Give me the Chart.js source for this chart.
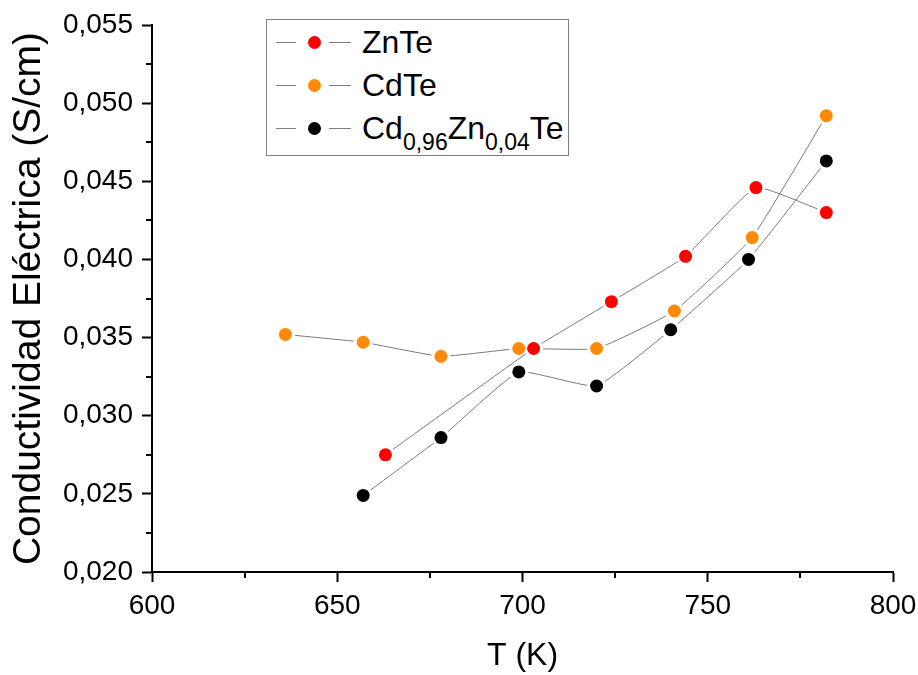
<!DOCTYPE html>
<html>
<head>
<meta charset="utf-8">
<script src="https://cdn.jsdelivr.net/npm/chart.js@4.4.1/dist/chart.umd.min.js"></script>
<style>
  body { margin: 0; background: #fff; }
  #wrap { position: relative; width: 918px; height: 675px; }
  #legend {
    position: absolute; left: 266px; top: 19px; width: 303px; height: 137px;
    border: 1px solid #808080; box-sizing: border-box; background: #fff;
    font-family: "Liberation Sans", Arial, sans-serif; color: #000;
  }
  .row { position: absolute; left: 0; width: 100%; height: 0; }
  .seg { position: absolute; top: 0; height: 1px; background: #808080; }
  .dot { position: absolute; top: -6px; width: 13px; height: 13px; border-radius: 50%; }
  .lbl { position: absolute; left: 95px; top: -19px; font-size: 32px; line-height: 38px; white-space: nowrap; }
  .lbl sub { font-size: 23px; vertical-align: -11px; line-height: 0; }
</style>
</head>
<body>
<div id="wrap">
  <canvas id="chart" width="918" height="675"></canvas>
  <div id="legend"></div>
</div>
<script>
// Data
const T_ZNTE = [663, 703, 724, 744, 763, 782];
const S_ZNTE = [0.0275, 0.0343, 0.0373, 0.0402, 0.0446, 0.0430];

const T_CDTE = [636, 657, 678, 699, 720, 741, 762, 782];
const S_CDTE = [0.0352, 0.0347, 0.0338, 0.0343, 0.0343, 0.0367, 0.0414, 0.0492];

const T_CDZNTE = [657, 678, 699, 720, 740, 761, 782];
const S_CDZNTE = [0.0249, 0.0286, 0.0328, 0.0319, 0.0355, 0.0400, 0.0463];

const SERIES_NAMES = ['ZnTe', 'CdTe', 'Cd<sub>0,96</sub>Zn<sub>0,04</sub>Te'];
const SERIES_COLORS = ['#ff0000', '#ff8a0a', '#000000'];

const X_MINOR = [625, 675, 725, 775];
const Y_MINOR = [0.0225, 0.0275, 0.0325, 0.0375, 0.0425, 0.0475, 0.0525];

const FONT = '"Liberation Sans", Arial, sans-serif';
const LINE_GRAY = '#7a7a7a';

function pts(xs, ys) {
    return xs.map((x, i) => ({ x: x, y: ys[i] }));
}

const seriesData = [pts(T_ZNTE, S_ZNTE), pts(T_CDTE, S_CDTE), pts(T_CDZNTE, S_CDZNTE)];

// lines (with white discs under the markers to leave a small gap), then markers on top
const datasets = [];
seriesData.forEach(d => {
    datasets.push({
        data: d,
        showLine: true,
        borderColor: LINE_GRAY,
        borderWidth: 1,
        tension: 0.12,
        pointRadius: 9.5,
        pointBackgroundColor: '#fff',
        pointBorderWidth: 0,
        order: 2
    });
});
seriesData.forEach((d, i) => {
    datasets.push({
        data: d,
        showLine: false,
        pointRadius: 6.5,
        pointBackgroundColor: SERIES_COLORS[i],
        pointBorderWidth: 0,
        order: 1
    });
});

// minor ticks on both axes
const minorTicks = {
    id: 'minorTicks',
    afterDraw(chart) {
        const { ctx, scales: { x, y } } = chart;
        ctx.save();
        ctx.strokeStyle = '#000';
        ctx.lineWidth = 2;
        ctx.beginPath();
        X_MINOR.forEach(v => {
            const px = Math.round(x.getPixelForValue(v));
            ctx.moveTo(px, y.bottom);
            ctx.lineTo(px, y.bottom + 6);
        });
        Y_MINOR.forEach(v => {
            const py = Math.round(y.getPixelForValue(v));
            ctx.moveTo(x.left, py);
            ctx.lineTo(x.left - 6, py);
        });
        ctx.stroke();
        ctx.restore();
    }
};

new Chart(document.getElementById('chart'), {
    type: 'scatter',
    data: { datasets: datasets },
    options: {
        responsive: false,
        animation: false,
        layout: { padding: { top: 25, right: 25, left: 0, bottom: 0 } },
        plugins: { legend: { display: false }, tooltip: { enabled: false } },
        scales: {
            x: {
                type: 'linear',
                min: 600, max: 800,
                ticks: { stepSize: 50, color: '#000', padding: 7, font: { family: FONT, size: 28 }, maxRotation: 0 },
                grid: { drawOnChartArea: false, drawTicks: true, tickLength: 10, tickColor: '#000', tickWidth: 2 },
                border: { display: true, color: '#000', width: 2 },
                title: { display: true, text: 'T (K)', color: '#000', font: { family: FONT, size: 32 }, padding: { top: 0, bottom: 0 } },
                afterFit(s) { s.height = 103; s.paddingLeft = 0; s.paddingRight = 0; }
            },
            y: {
                min: 0.020, max: 0.055,
                ticks: {
                    stepSize: 0.005, color: '#000', padding: 9,
                    font: { family: FONT, size: 28 },
                    callback: v => v.toFixed(3).replace('.', ',')
                },
                grid: { drawOnChartArea: false, drawTicks: true, tickLength: 10, tickColor: '#000', tickWidth: 2 },
                border: { display: true, color: '#000', width: 2 },
                title: { display: true, text: 'Conductividad Eléctrica (S/cm)', color: '#000', font: { family: FONT, size: 39 }, padding: { top: 6, bottom: 0 } },
                afterFit(s) { s.width = 152; s.paddingTop = 0; s.paddingBottom = 0; }
            }
        }
    },
    plugins: [minorTicks]
});

// legend (HTML so the subscripts stay real text)
const ROW_TOPS = [22, 65, 108];
const legend = document.getElementById('legend');
SERIES_NAMES.forEach((name, i) => {
    const row = document.createElement('div');
    row.className = 'row';
    row.style.top = ROW_TOPS[i] + 'px';
    row.innerHTML =
        '<div class="seg" style="left:9px;width:20px"></div>' +
        '<div class="dot" style="left:41px;background:' + SERIES_COLORS[i] + '"></div>' +
        '<div class="seg" style="left:62px;width:22px"></div>' +
        '<div class="lbl">' + name + '</div>';
    legend.appendChild(row);
});
</script>
</body>
</html>
